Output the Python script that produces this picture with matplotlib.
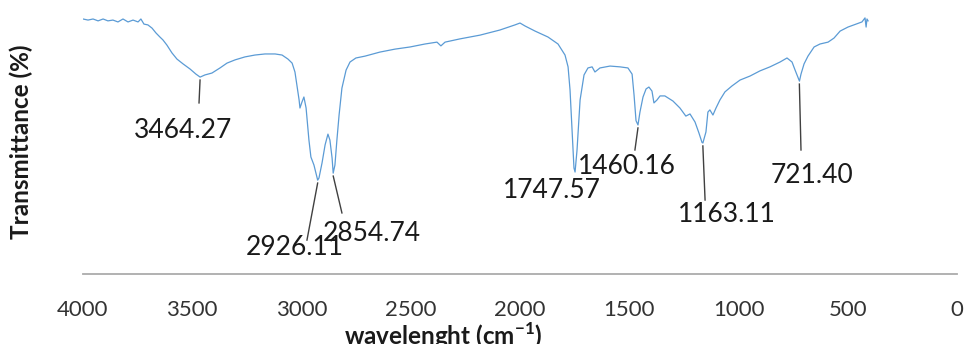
import numpy as np
import matplotlib
matplotlib.use("Agg")
import matplotlib.pyplot as plt

plt.rcParams['font.family'] = ['Lato', 'DejaVu Sans']
plt.rcParams['mathtext.fontset'] = 'custom'
plt.rcParams['mathtext.rm'] = 'Lato'
plt.rcParams['mathtext.bf'] = 'Lato:bold'

# FTIR spectrum, wavenumber (cm-1) vs transmittance (%)
wavenumber = [4000, 3977, 3954, 3931, 3908, 3886, 3863, 3840, 3817, 3794, 3771, 3748,
              3735, 3721, 3703, 3684, 3666, 3648, 3634, 3616, 3593, 3570, 3542, 3510,
              3483, 3464, 3442, 3410, 3373, 3341, 3304, 3259, 3213, 3167, 3121, 3089,
              3062, 3043, 3030, 3021, 3011, 3007, 2998, 2989, 2979, 2966, 2957, 2943,
              2926, 2920, 2906, 2892, 2879, 2870, 2860, 2855, 2847, 2838, 2828, 2815,
              2796, 2778, 2751, 2709, 2641, 2572, 2503, 2435, 2380, 2362, 2343, 2275,
              2183, 2092, 2023, 2000, 1977, 1931, 1872, 1826, 1794, 1780, 1771, 1762,
              1753, 1748, 1739, 1725, 1707, 1689, 1670, 1657, 1634, 1588, 1542, 1506,
              1487, 1478, 1469, 1460, 1451, 1437, 1423, 1410, 1396, 1387, 1373, 1359,
              1337, 1300, 1268, 1241, 1222, 1199, 1181, 1167, 1163, 1149, 1140, 1131,
              1117, 1103, 1085, 1062, 1030, 993, 947, 902, 856, 810, 778, 755,
              741, 721, 714, 700, 682, 654, 627, 590, 563, 535, 499, 462,
              435, 421, 416, 412, 407]
transmittance = [94.8, 94.4, 94.8, 94.1, 94.8, 94.1, 94.4, 93.7, 94.8, 93.7, 94.4, 93.7,
                 94.8, 92.9, 92.6, 91.4, 89.6, 88.1, 87.0, 85.1, 82.2, 79.9, 78.1, 76.2,
                 74.3, 73.2, 74.0, 74.7, 76.6, 78.4, 79.6, 80.7, 81.4, 81.8, 81.8, 81.4,
                 79.9, 78.4, 75.1, 70.3, 64.7, 61.7, 63.9, 65.8, 61.7, 49.8, 43.5, 40.5,
                 34.9, 35.7, 41.3, 48.0, 52.0, 49.8, 43.1, 37.5, 40.5, 49.8, 59.1, 69.1,
                 75.8, 78.8, 80.3, 81.0, 82.5, 83.6, 84.4, 85.5, 86.2, 84.8, 86.2, 87.4,
                 88.8, 90.7, 92.6, 93.3, 92.2, 90.3, 88.1, 85.5, 81.4, 77.0, 68.4, 53.5,
                 39.4, 37.9, 46.1, 64.7, 74.0, 76.6, 77.0, 75.1, 76.6, 77.3, 77.0, 76.6,
                 74.3, 66.5, 57.0, 55.4, 60.2, 65.8, 68.8, 69.5, 68.0, 63.6, 64.7, 66.2,
                 66.2, 64.3, 61.7, 58.7, 59.5, 56.5, 52.4, 48.9, 48.7, 52.8, 60.2, 61.0,
                 59.1, 61.7, 64.7, 67.7, 69.9, 72.1, 73.6, 75.5, 77.0, 78.8, 80.3, 78.8,
                 75.8, 71.7, 74.3, 78.1, 81.0, 84.4, 85.5, 86.2, 87.7, 90.3, 91.8, 92.9,
                 93.7, 95.2, 91.8, 94.8, 94.1]

# peak labels: value, leader line (top T, bottom wn, bottom T), text centre (wn, T)
peak_values = [3464.27, 2926.11, 2854.74, 1747.57, 1460.16, 1163.11, 721.40]
peak_line_top = [72.1, 33.8, 36.4, None, 54.3, 47.6, 70.6]
peak_line_end = [(3469, 63.6), (2975, 12.6), (2815, 22.7), None, (1474, 46.1),
                 (1153, 27.5), (714, 46.1)]
peak_text_pos = [(3542, 53.5), (3030, 9.7), (2677, 15.2), (1853, 31.2), (1510, 40.1),
                 (1053, 22.3), (664, 36.8)]

x_ticks = [4000, 3500, 3000, 2500, 2000, 1500, 1000, 500, 0]

fig = plt.figure(figsize=(9.64, 3.44), dpi=100)
ax = fig.add_axes([83/964, 1 - 274/344, (957 - 83)/964, (274 - 5)/344])

ax.plot(wavenumber, transmittance, color='#5B9BD5', linewidth=0.9)

for val, top, end, pos in zip(peak_values, peak_line_top, peak_line_end, peak_text_pos):
    if top is not None:
        ax.plot([val, end[0]], [top, end[1]], color='#404040', linewidth=1.0)
    ax.text(pos[0], pos[1], f"{val:.2f}", fontsize=19, color='#1a1a1a',
            ha='center', va='center')

ax.set_xlim(4000, 0)
ax.set_ylim(0, 100)
ax.set_xticks(x_ticks)
ax.set_xticklabels([str(t) for t in x_ticks])
ax.set_yticks([])
ax.tick_params(axis='x', length=0, pad=18.5, labelsize=16, labelcolor='#333333')
for s in ['top', 'right', 'left']:
    ax.spines[s].set_visible(False)
ax.spines['bottom'].set_color('#ABABAB')
ax.spines['bottom'].set_linewidth(1.3)

ax.set_xlabel(r"wavelenght (cm$^{\mathbf{-1}}$)", fontsize=17.5, fontweight='bold',
              color='#1a1a1a')
ax.xaxis.set_label_coords((443 - 83)/874, -0.172)
ax.set_ylabel("Transmittance (%)", fontsize=17.5, fontweight='bold', color='#1a1a1a')
ax.yaxis.set_label_coords(-(83 - 33)/874, 0.49)

fig.savefig("out.png", dpi=100)
